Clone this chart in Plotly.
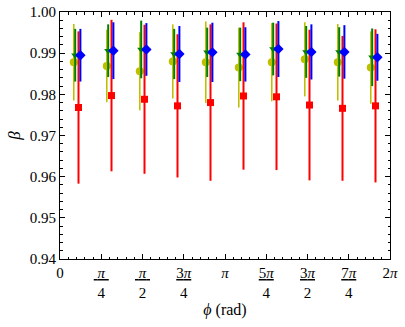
import numpy as np
import plotly.graph_objects as go

# phi bins (10 bins over 0..2pi), value read at bin centres
n_bins = 10
bin_centres = (np.arange(n_bins) + 0.5) * 2 * np.pi / n_bins

beta_y = [0.9878, 0.9869, 0.9856, 0.9880, 0.9878, 0.9865, 0.9878, 0.9885, 0.9878, 0.9865]
err_y = [0.0093, 0.0088, 0.0095, 0.0090, 0.0099, 0.0097, 0.0095, 0.0090, 0.0093, 0.0088]

beta_g = [0.9895, 0.9906, 0.9909, 0.9898, 0.9902, 0.9897, 0.9910, 0.9903, 0.9903, 0.9890]
err_g = [0.0064, 0.0064, 0.0070, 0.0061, 0.0060, 0.0065, 0.0064, 0.0063, 0.0060, 0.0070]

beta_r = [0.9768, 0.9797, 0.9788, 0.9772, 0.9780, 0.9796, 0.9794, 0.9774, 0.9766, 0.9772]
err_r = [0.0185, 0.0184, 0.0181, 0.0174, 0.0190, 0.0179, 0.0178, 0.0183, 0.0176, 0.0186]

beta_b = [0.9895, 0.9906, 0.9909, 0.9898, 0.9902, 0.9897, 0.9910, 0.9903, 0.9903, 0.9890]
err_b = [0.0064, 0.0069, 0.0064, 0.0068, 0.0072, 0.0066, 0.0068, 0.0067, 0.0065, 0.0057]

tick_vals = [k * np.pi / 4 for k in range(9)]
tick_text = [
    "0",
    "<span style='text-decoration:underline'> <i>π</i> </span><br>4",
    "<span style='text-decoration:underline'> <i>π</i> </span><br>2",
    "<span style='text-decoration:underline'>3<i>π</i></span><br>4",
    "<i>π</i>",
    "<span style='text-decoration:underline'>5<i>π</i></span><br>4",
    "<span style='text-decoration:underline'>3<i>π</i></span><br>2",
    "<span style='text-decoration:underline'>7<i>π</i></span><br>4",
    "2<i>π</i>",
]

series = [
    # values, errors, x-shift, colour, symbol, size, bar width
    (beta_y, err_y, -0.052, "#bfbf00", "circle", 8, 1.6),
    (beta_g, err_g, -0.025, "#008000", "triangle-down", 7, 2),
    (beta_r, err_r, 0.038, "#ff0000", "square", 7, 2),
    (beta_b, err_b, 0.074, "#0000ff", "diamond", 8, 2),
]

fig = go.Figure()
for vals, errs, dx, col, sym, size, w in series:
    fig.add_trace(
        go.Scatter(
            x=bin_centres + dx,
            y=vals,
            mode="markers",
            marker=dict(color=col, symbol=sym, size=size, line=dict(width=0)),
            error_y=dict(type="data", array=errs, visible=True, color=col,
                         thickness=w, width=0),
            showlegend=False,
        )
    )

axis_font = dict(family="Liberation Serif, serif", size=15, color="black")
fig.update_layout(
    width=405,
    height=327,
    margin=dict(l=60, r=15, t=12, b=68, autoexpand=False),
    paper_bgcolor="white",
    plot_bgcolor="white",
    font=axis_font,
)
fig.update_xaxes(
    range=[0, 2 * np.pi],
    tickvals=tick_vals,
    ticktext=tick_text,
    ticks="inside",
    ticklen=5,
    tickcolor="black",
    showline=True,
    linecolor="black",
    linewidth=1,
    mirror="allticks",
    showgrid=False,
    zeroline=False,
    automargin=False,
    ticklabeloverflow="allow",
    minor=dict(dtick=np.pi / 20, tick0=0, ticks="inside", ticklen=2.5, tickcolor="black"),
    title=dict(text="<i>ϕ</i> (rad)", standoff=4, font=dict(size=16)),
)
fig.update_yaxes(
    range=[0.94, 1.00],
    dtick=0.01,
    tickformat=".2f",
    ticks="inside",
    ticklen=5,
    tickcolor="black",
    showline=True,
    linecolor="black",
    linewidth=1,
    mirror="allticks",
    showgrid=False,
    zeroline=False,
    automargin=False,
    ticklabeloverflow="allow",
    minor=dict(dtick=0.002, ticks="inside", ticklen=2.5, tickcolor="black"),
    title=dict(text="<i>β</i>", standoff=4, font=dict(size=17)),
)

# drop the default 8px page margin so the figure fills the window
fig.write_html(
    "out.html",
    config={"displayModeBar": False},
    post_script="document.body.style.margin = '0';",
)
